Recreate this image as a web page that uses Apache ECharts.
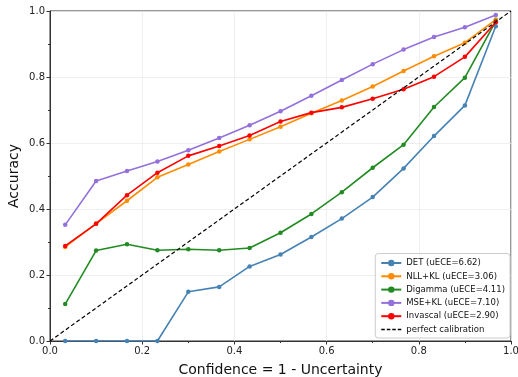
<!DOCTYPE html>
<html><head><meta charset="utf-8">
<script src="https://cdn.jsdelivr.net/npm/echarts@6/dist/echarts.min.js"></script>
<style>html,body{margin:0;padding:0;background:#fff}#c{width:518px;height:377px}</style>
</head><body><div id="c"></div>
<script>
const confidence = [0.033,0.1,0.167,0.233,0.3,0.367,0.433,0.5,0.567,0.633,0.7,0.767,0.833,0.9,0.967];
const det      = [0,0,0,0,0.149,0.164,0.226,0.262,0.315,0.371,0.436,0.523,0.621,0.714,0.954];
const nllKl    = [0.285,0.356,0.425,0.496,0.535,0.574,0.611,0.649,0.690,0.729,0.771,0.818,0.863,0.904,0.974];
const digamma  = [0.112,0.274,0.293,0.275,0.278,0.275,0.282,0.328,0.385,0.451,0.525,0.595,0.709,0.798,0.969];
const mseKl    = [0.352,0.485,0.515,0.544,0.578,0.615,0.654,0.696,0.743,0.791,0.839,0.883,0.921,0.951,0.988];
const invascal = [0.288,0.355,0.442,0.510,0.561,0.591,0.623,0.665,0.692,0.708,0.734,0.763,0.801,0.861,0.966];
const perfect  = [[0,0],[1,1]];
const seriesNames = ['DET (uECE=6.62)','NLL+KL (uECE=3.06)','Digamma (uECE=4.11)','MSE+KL (uECE=7.10)','Invascal (uECE=2.90)'];
const seriesColors = ['#4682b4','#ff8c00','#228b22','#9370db','#ff0000'];
const seriesValues = [det, nllKl, digamma, mseKl, invascal];

const font = 'DejaVu Sans';
const chart = echarts.init(document.getElementById('c'));
const lineSeries = seriesValues.map((vals, i) => ({
  name: seriesNames[i],
  type: 'line',
  data: vals.map((v, j) => [confidence[j], v]),
  symbol: 'circle',
  symbolSize: 4.5,
  color: seriesColors[i],
  lineStyle: {width: 1.6, color: seriesColors[i]},
  itemStyle: {color: seriesColors[i]},
  animation: false,
  z: 3 + i
}));
lineSeries.push({
  name: 'perfect calibration',
  type: 'line',
  data: perfect,
  symbol: 'none',
  color: '#000',
  lineStyle: {width: 1.2, type: [4, 2.5], color: '#000'},
  animation: false,
  z: 10
});
const axisCommon = {
  type: 'value', min: 0, max: 1, interval: 0.2,
  axisLine: {show: true, lineStyle: {color: '#333', width: 1}},
  axisTick: {show: true, length: 3.5, lineStyle: {color: '#333'}},
  minorTick: {show: true, splitNumber: 2, length: 2, lineStyle: {color: '#333'}},
  splitLine: {show: true, lineStyle: {color: '#ebebeb', width: 0.8}},
  axisLabel: {fontFamily: font, fontSize: 10, color: '#222', formatter: v => v.toFixed(1), margin: 5},
  nameTextStyle: {fontFamily: font, fontSize: 14, color: '#111'},
  nameMoveOverlap: false
};
const legendData = seriesNames.map(n => ({name: n})).concat([{name: 'perfect calibration', itemStyle: {opacity: 0}, lineStyle: {width: 1.5, type: [3.5, 2]}}]);
chart.setOption({
  animation: false,
  grid: {left: 50, right: 7, top: 11, bottom: 36, show: true, borderColor: '#333', borderWidth: 1, containLabel: false, outerBoundsMode: 'none'},
  xAxis: Object.assign({}, axisCommon, {
    name: 'Confidence = 1 - Uncertainty', nameLocation: 'middle', nameGap: 22
  }),
  yAxis: Object.assign({}, axisCommon, {
    name: 'Accuracy', nameLocation: 'middle', nameGap: 29
  }),
  legend: {
    orient: 'vertical', right: 8, bottom: 39,
    data: legendData,
    itemWidth: 20, itemHeight: 8, itemGap: 4.3,
    padding: [5, 5, 4, 5],
    backgroundColor: 'rgba(255,255,255,0.85)', borderColor: '#ccc', borderWidth: 1, borderRadius: 3,
    textStyle: {fontFamily: font, fontSize: 8.5, color: '#111'},
    selectedMode: false
  },
  series: lineSeries
});
</script></body></html>
